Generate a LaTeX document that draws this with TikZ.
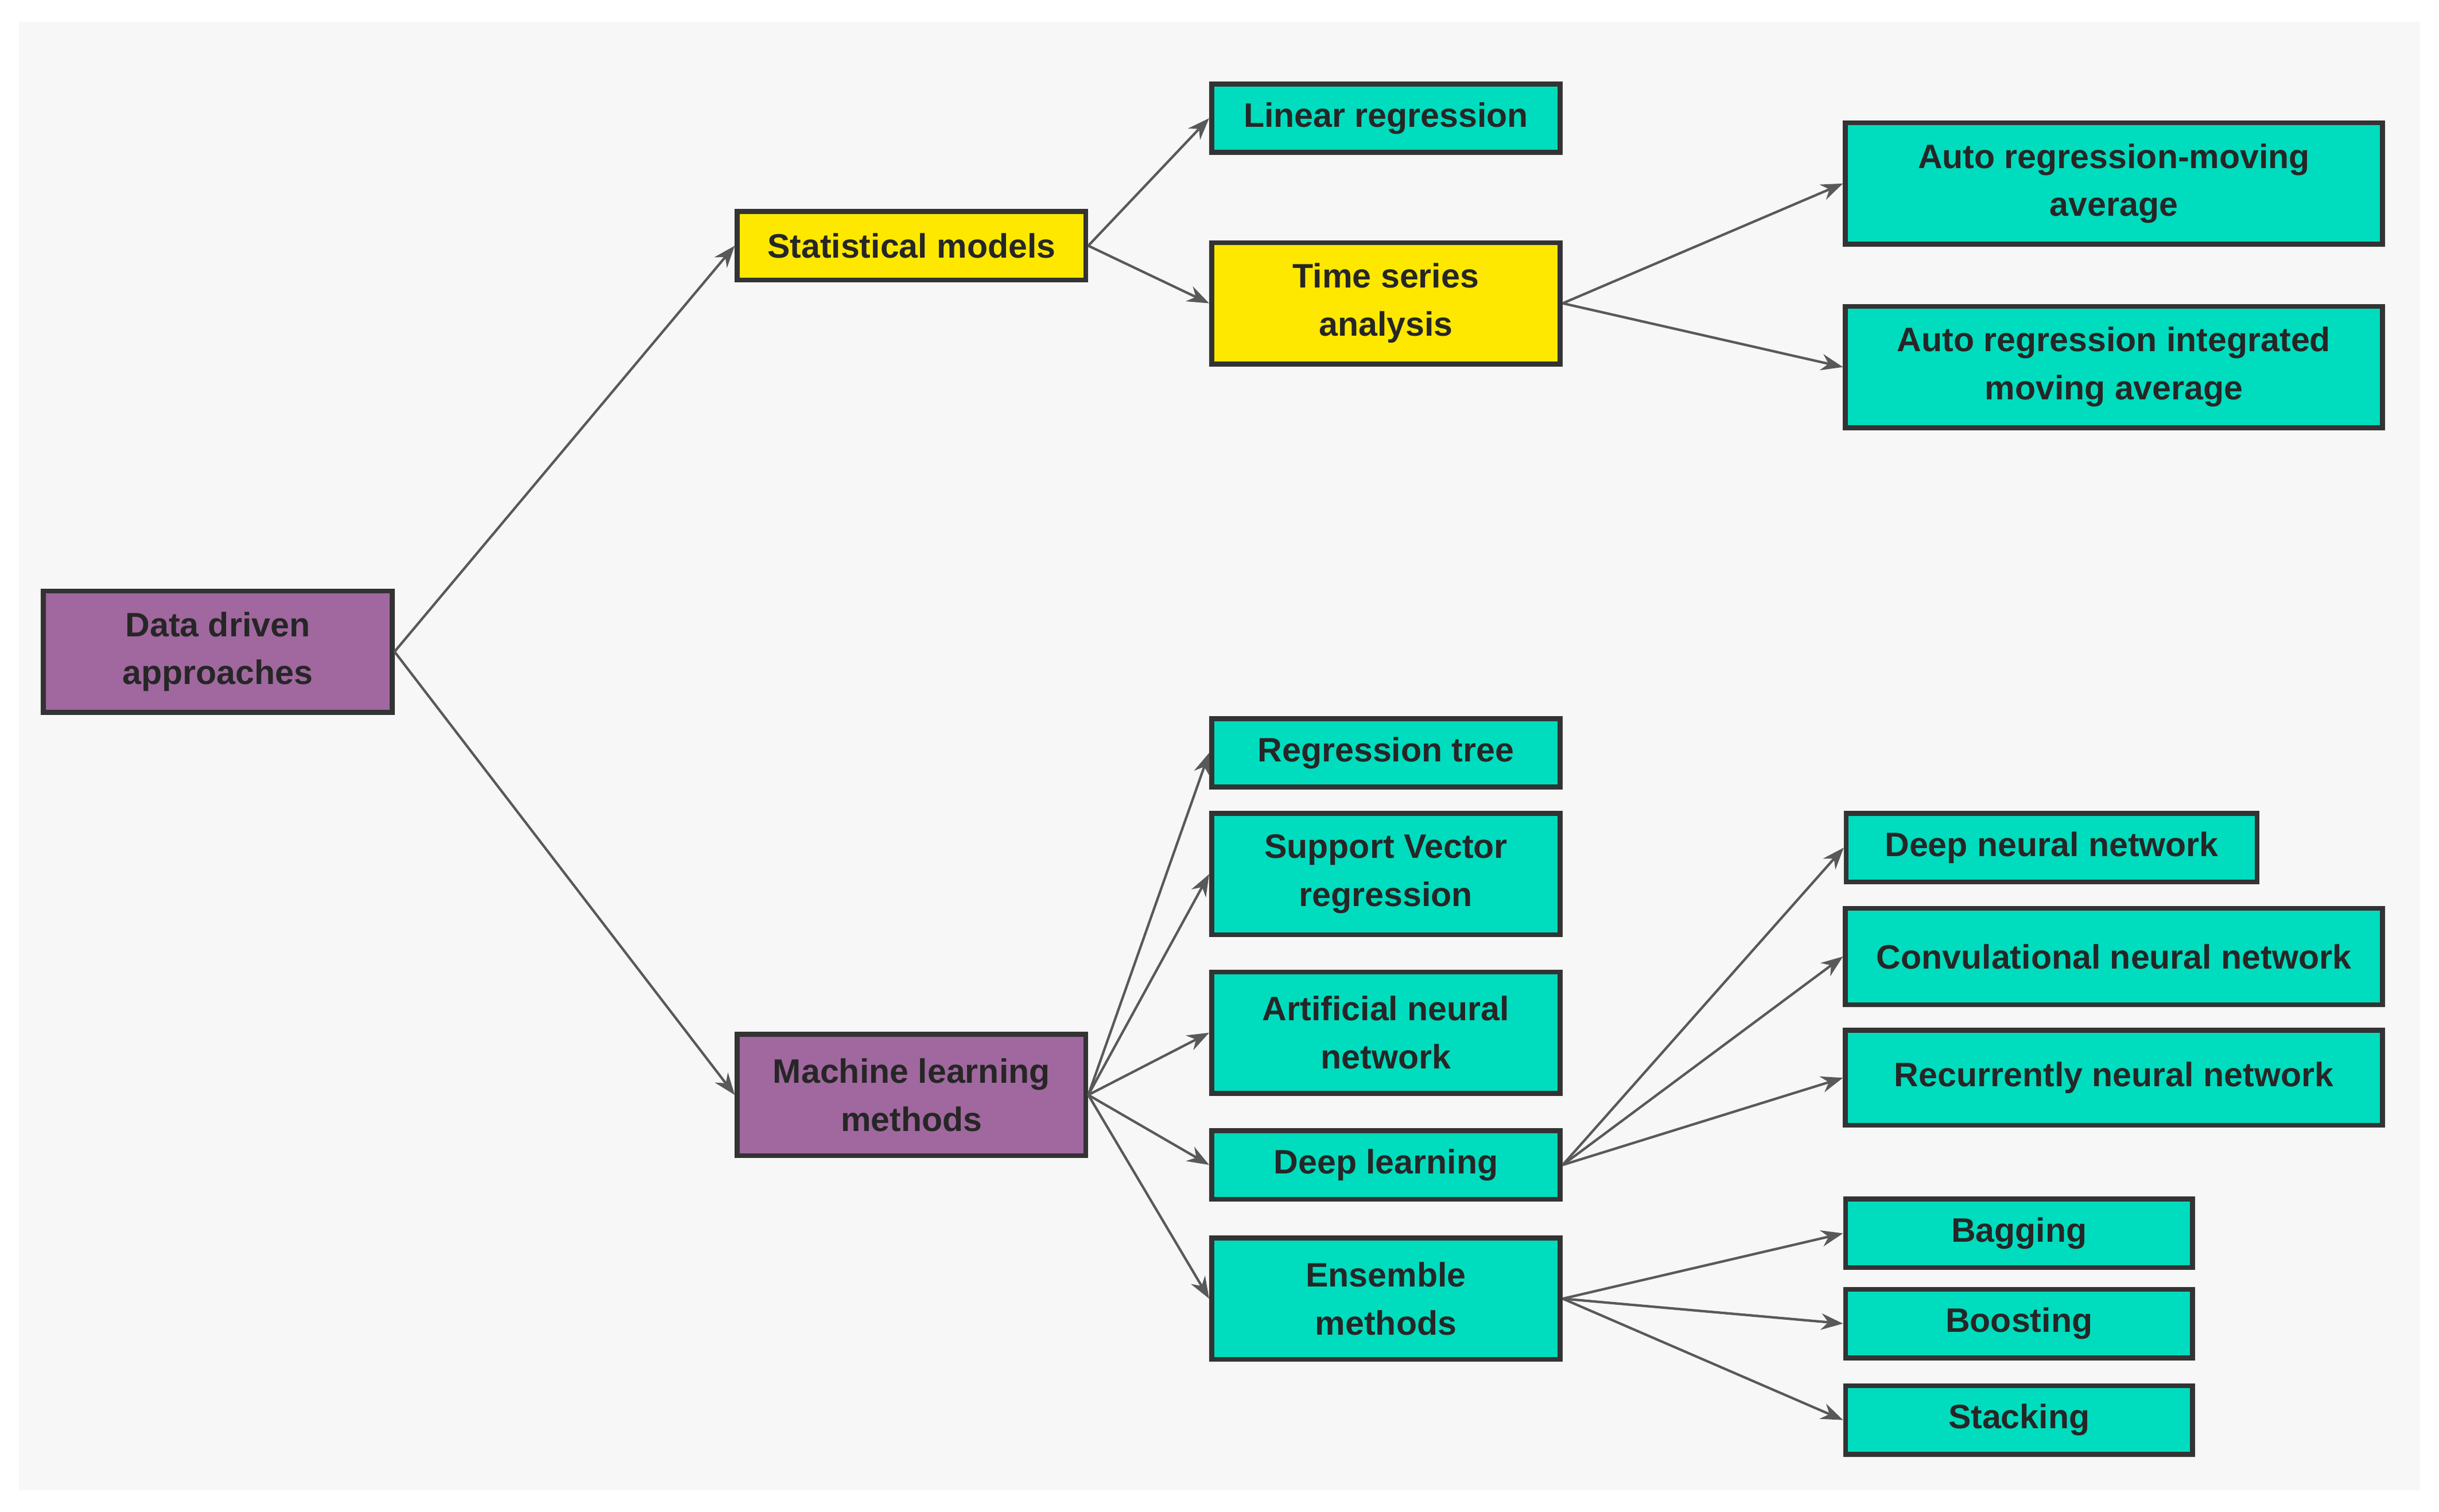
\documentclass[tikz,border=0pt]{standalone}
\usepackage{fontspec}
\setmainfont{Liberation Sans}
\usetikzlibrary{arrows.meta}
\definecolor{pur}{HTML}{A0689E}
\definecolor{yel}{HTML}{FFE800}
\definecolor{teal2}{HTML}{00DCBE}
\begin{document}
\begin{tikzpicture}[x=0.01cm,y=-0.01cm,
 box/.style={draw=black!80,line width=0.9pt,inner sep=0pt,align=center,font=\fontsize{6.2}{8.8}\selectfont\bfseries,text=black!85},
 w225/.style={minimum width=2.24cm},
 w345/.style={minimum width=3.45cm},
 w224/.style={minimum width=2.23cm},
 h1/.style={minimum height=0.44cm},
 h2/.style={minimum height=0.78cm},
 P/.style={box,fill=pur},Y/.style={box,fill=yel},T/.style={box,fill=teal2},
 arr/.style={draw=black!65,line width=0.45pt,-{Stealth[length=4pt,width=3pt]}}]
\fill[white] (0,0) rectangle (1568,972);
\fill[black!3] (12,14) rectangle (1556,958);
\node[P,w225,h2] (dd) at (140,419) {Data driven\\approaches};
\node[Y,w225,h1] (sm) at (586,158) {Statistical models};
\node[P,w225,h2] (ml) at (586,704) {Machine learning\\methods};
\node[T,w225,h1] (lr) at (891,76) {Linear regression};
\node[Y,w225,h2] (ts) at (891,195) {Time series\\analysis};
\node[T,w345,h2] (arma) at (1359,118) {Auto regression-moving\\average};
\node[T,w345,h2] (arima) at (1359,236) {Auto regression integrated\\moving average};
\node[T,w225,h1] (rt) at (891,484) {Regression tree};
\node[T,w225,h2] (svr) at (891,562) {Support Vector\\regression};
\node[T,w225,h2] (ann) at (891,664) {Artificial neural\\network};
\node[T,w225,h1] (dl) at (891,749) {Deep learning};
\node[T,w225,h2] (en) at (891,835) {Ensemble\\methods};
\node[T,minimum width=2.64cm,h1] (dnn) at (1319,545) {Deep neural network};
\node[T,w345,minimum height=0.62cm] (cnn) at (1359,615) {Convulational neural network};
\node[T,w345,minimum height=0.61cm] (rnn) at (1359,693) {Recurrently neural network};
\node[T,w224,h1] (bag) at (1298,793) {Bagging};
\node[T,w224,h1] (boo) at (1298,851) {Boosting};
\node[T,w224,h1] (sta) at (1298,913) {Stacking};
\draw[arr] (dd.east) -- (sm.west);
\draw[arr] (dd.east) -- (ml.west);
\draw[arr] (sm.east) -- (lr.west);
\draw[arr] (sm.east) -- (ts.west);
\draw[arr] (ts.east) -- (arma.west);
\draw[arr] (ts.east) -- (arima.west);
\foreach \t in {rt,svr,ann,dl,en} \draw[arr] (ml.east) -- (\t.west);
\foreach \t in {dnn,cnn,rnn} \draw[arr] (dl.east) -- (\t.west);
\foreach \t in {bag,boo,sta} \draw[arr] (en.east) -- (\t.west);
\end{tikzpicture}
\end{document}
